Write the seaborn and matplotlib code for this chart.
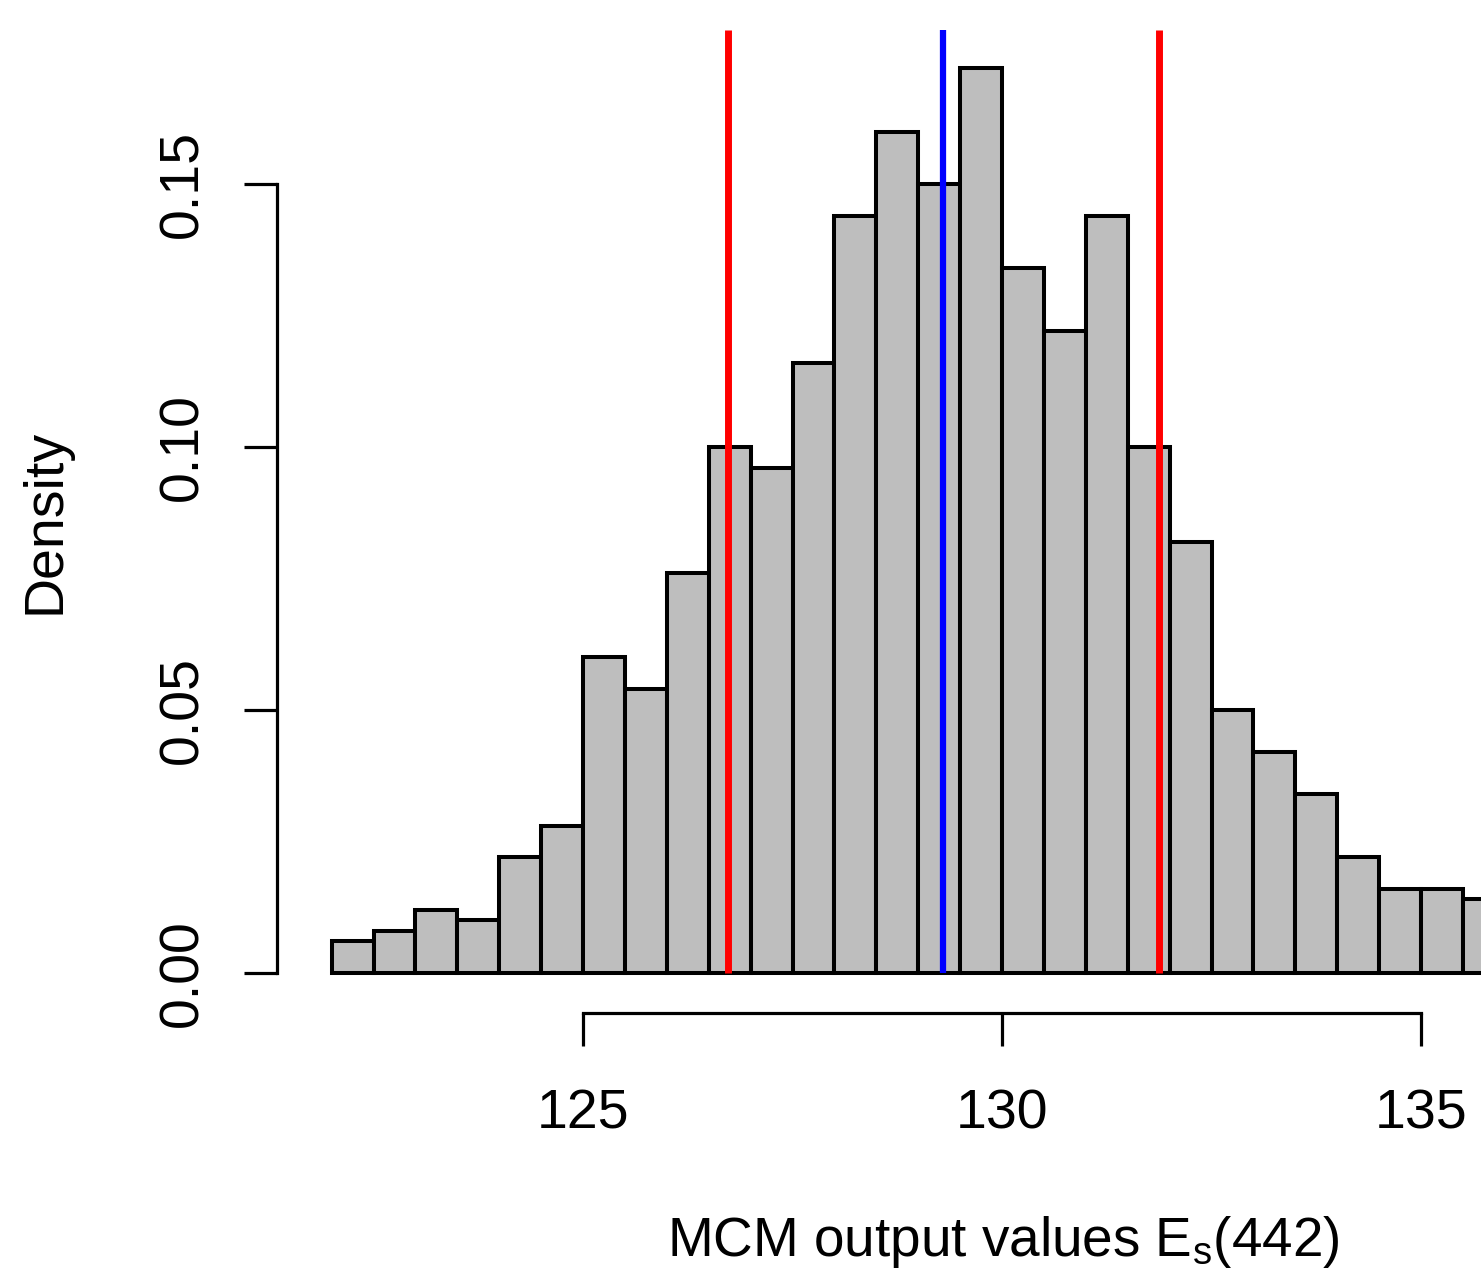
import numpy as np
import pandas as pd
import matplotlib
matplotlib.use("Agg")
import matplotlib.pyplot as plt
import seaborn as sns

# --- data (bin width 0.5, density scale) ---
bin_start = 122.0
bin_width = 0.5
densities = [0.006, 0.008, 0.012, 0.010, 0.022, 0.028, 0.060, 0.054,
             0.076, 0.100, 0.096, 0.116, 0.144, 0.160, 0.150, 0.172,
             0.134, 0.122, 0.144, 0.100, 0.082, 0.050, 0.042, 0.034,
             0.022, 0.016, 0.016, 0.014]
interval_lines = [126.73, 131.87]   # red
mean_line = 129.30                  # blue
x_ticks = [125, 130, 135]
y_ticks = [0.00, 0.05, 0.10, 0.15]

n_bins = len(densities)
df = pd.DataFrame({
    "value": bin_start + bin_width * (np.arange(n_bins) + 0.5),
    "density": densities,
})

sns.set_theme(style="white")
plt.rcParams["font.family"] = ["Liberation Sans", "DejaVu Sans"]
plt.rcParams["mathtext.default"] = "regular"

W, H = 1481, 1279
fig = plt.figure(figsize=(W / 100, H / 100), dpi=100)
ax = fig.add_axes([277 / W, 1 - 1013 / H, (W - 277) / W, (1013 - 30) / H])

sns.histplot(data=df, x="value", weights="density", binwidth=bin_width,
             binrange=(bin_start, bin_start + bin_width * n_bins),
             stat="count", color="#BEBEBE", edgecolor="black",
             linewidth=2.9, alpha=1, ax=ax)

ylim = (-0.0076, 0.1793)
ax.set_xlim(121.348, 135.716)
ax.set_ylim(*ylim)

ax.vlines(interval_lines, 0, ylim[1], colors="#FF0000", linewidth=5, zorder=5)
ax.vlines([mean_line], 0, ylim[1], colors="#0000FF", linewidth=4.5, zorder=5)

# R-style detached axes
for s in ["top", "right"]:
    ax.spines[s].set_visible(False)
for s in ["left", "bottom"]:
    ax.spines[s].set_linewidth(2.3)
    ax.spines[s].set_color("black")
ax.spines["left"].set_bounds(0, 0.15)
ax.spines["bottom"].set_bounds(125, 135)

ax.set_xticks(x_ticks)
ax.set_xticklabels([str(t) for t in x_ticks])
ax.set_yticks(y_ticks)
ax.set_yticklabels([f"{t:.2f}" for t in y_ticks], rotation=90, va="center")
ax.tick_params(axis="both", direction="out", length=23.5, width=2.3,
               color="black", labelsize=40, labelcolor="black",
               left=True, bottom=True)
ax.tick_params(axis="x", pad=31)
ax.tick_params(axis="y", pad=25)

ax.set_xlabel("")
ax.set_ylabel("")
fig.text(1003 / W, 1 - 1256 / H, "MCM output values $E_s(442)$",
         ha="center", va="baseline", fontsize=39.5, color="black")
fig.text(46 / W, 1 - 521 / H, "Density", rotation=90,
         ha="center", va="center", fontsize=40, color="black")

fig.savefig("out.png", dpi=100, facecolor="white")
